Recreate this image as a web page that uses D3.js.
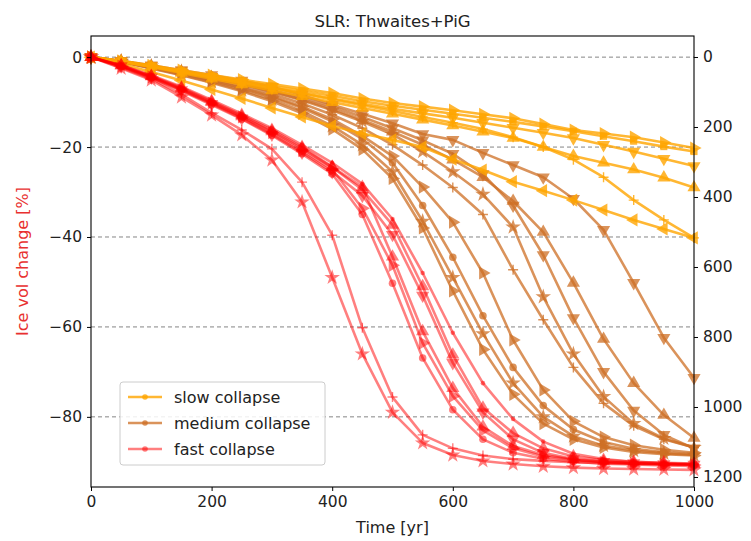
<!DOCTYPE html>
<html>
<head>
<meta charset="utf-8">
<script src="https://cdn.jsdelivr.net/npm/d3@7"></script>
<style>
  body { margin: 0; background: #fff; }
  text { font-family: "DejaVu Sans", sans-serif; }
</style>
</head>
<body>
<svg id="chart" width="751" height="541"></svg>
<script>
// time axis, one sample every 50 yr
var years = [0, 50, 100, 150, 200, 250, 300, 350, 400, 450, 500,
             550, 600, 650, 700, 750, 800, 850, 900, 950, 1000];

// slow collapse runs
var slow_right  = [0, -0.8, -1.8, -2.9, -4.0, -5.0, -6.0, -7.0, -8.0, -9.2, -10.2, -11.0, -11.8, -12.7, -13.6, -14.9, -16.2, -17.0, -17.8, -19.0, -20.2];
var slow_square = [0, -0.9, -2.0, -3.1, -4.2, -5.3, -6.4, -7.5, -8.6, -9.8, -10.8, -11.7, -12.6, -13.5, -14.4, -15.4, -16.5, -17.6, -18.7, -19.9, -21.0];
var slow_down   = [0, -0.9, -2.0, -3.2, -4.4, -5.6, -6.8, -8.0, -9.2, -10.4, -11.5, -12.5, -13.5, -14.6, -15.7, -16.8, -18.0, -19.5, -21.0, -22.6, -24.2];
var slow_up     = [0, -1.0, -2.2, -3.5, -4.8, -6.1, -7.4, -8.7, -10.0, -11.3, -12.6, -13.9, -15.2, -16.6, -18.0, -20.0, -22.0, -23.5, -25.0, -26.8, -29.0];
var slow_plus   = [0, -1.0, -2.1, -3.3, -4.5, -5.7, -6.9, -8.1, -9.4, -10.7, -12.0, -13.3, -14.6, -16.0, -17.8, -20.0, -22.8, -26.7, -31.8, -36.2, -40.2];
var slow_left   = [0, -1.5, -3.3, -5.2, -7.2, -9.2, -11.3, -13.3, -15.3, -17.0, -18.4, -20.0, -22.7, -25.1, -27.7, -29.7, -31.8, -34.0, -36.2, -38.2, -40.2];

// medium collapse runs
var med_right  = [0, -1.1, -2.5, -4.0, -5.7, -7.6, -9.8, -12.5, -16.0, -20.5, -27.0, -38.0, -52.0, -65.0, -75.0, -81.5, -85.0, -86.8, -87.8, -88.3, -88.6];
var med_star   = [0, -1.0, -2.4, -3.9, -5.5, -7.3, -9.4, -12.0, -15.3, -19.5, -25.5, -36.5, -49.0, -61.5, -72.5, -80.0, -84.3, -86.4, -87.5, -88.1, -88.5];
var med_circle = [0, -1.0, -2.3, -3.7, -5.2, -6.9, -8.9, -11.3, -14.3, -18.2, -23.5, -33.0, -44.5, -57.5, -69.0, -77.5, -82.8, -85.6, -87.1, -87.9, -88.3];
var med_right2 = [0, -1.0, -2.2, -3.6, -5.1, -6.8, -8.7, -11.0, -13.8, -17.5, -22.0, -28.9, -36.7, -48.0, -62.9, -74.0, -81.0, -84.5, -86.3, -87.3, -88.0];
var med_plus   = [0, -0.9, -2.1, -3.4, -4.8, -6.4, -8.2, -10.3, -12.8, -15.8, -19.5, -24.0, -29.0, -35.0, -47.3, -58.4, -69.0, -77.0, -82.0, -85.0, -86.8];
var med_star2  = [0, -0.9, -2.0, -3.2, -4.5, -6.0, -7.7, -9.6, -11.8, -14.3, -17.2, -21.0, -25.5, -30.5, -37.8, -53.3, -66.0, -75.5, -81.5, -84.8, -86.8];
var med_down2  = [0, -0.9, -1.9, -3.1, -4.4, -5.8, -7.3, -9.0, -11.0, -13.3, -15.8, -18.5, -21.5, -26.0, -33.0, -44.0, -58.0, -70.0, -78.6, -84.0, -87.0];
var med_up     = [0, -0.9, -2.0, -3.3, -4.6, -6.0, -7.6, -9.4, -11.5, -14.0, -16.6, -19.5, -22.8, -26.7, -32.0, -38.9, -50.2, -62.7, -72.5, -79.6, -84.7];
var med_down   = [0, -0.8, -1.8, -2.9, -4.0, -5.2, -6.6, -8.4, -10.6, -12.6, -14.7, -17.1, -18.4, -21.3, -24.0, -26.7, -31.5, -38.4, -50.2, -62.4, -71.3];

// fast collapse runs
var fast_star   = [0, -2.5, -5.1, -8.9, -12.9, -17.3, -22.9, -32.2, -49.0, -66.0, -79.0, -85.8, -88.5, -89.8, -90.5, -91.0, -91.3, -91.5, -91.6, -91.7, -91.8];
var fast_plus   = [0, -2.3, -4.8, -8.3, -12.4, -16.2, -20.4, -27.8, -39.6, -60.2, -75.6, -84.0, -87.0, -88.6, -89.4, -89.8, -90.1, -90.3, -90.4, -90.5, -90.6];
var fast_up     = [0, -1.8, -4.2, -6.8, -9.8, -12.9, -16.2, -20.0, -24.4, -28.9, -44.4, -61.0, -73.6, -82.2, -86.5, -88.5, -89.5, -90.0, -90.3, -90.5, -90.6];
var fast_right  = [0, -2.0, -4.4, -7.2, -10.2, -13.3, -16.8, -20.8, -25.0, -33.6, -46.3, -63.6, -75.4, -83.0, -87.0, -88.8, -89.6, -90.1, -90.4, -90.6, -90.7];
var fast_circle = [0, -2.1, -4.6, -7.5, -10.6, -13.8, -17.4, -21.5, -26.0, -35.0, -50.3, -66.9, -78.4, -85.0, -88.0, -89.3, -90.0, -90.4, -90.6, -90.8, -90.9];
var fast_up2    = [0, -1.9, -4.3, -7.0, -10.0, -13.2, -16.5, -20.3, -24.5, -29.5, -37.3, -51.0, -66.2, -78.0, -83.6, -87.0, -88.8, -89.6, -90.0, -90.2, -90.4];
var fast_down   = [0, -2.0, -4.5, -7.3, -10.4, -13.6, -17.2, -21.2, -25.5, -30.8, -39.5, -53.0, -68.0, -79.0, -85.0, -88.0, -89.4, -90.0, -90.3, -90.5, -90.6];
var fast_dot    = [0, -1.8, -4.0, -6.6, -9.5, -12.6, -15.8, -19.5, -23.5, -28.2, -36.0, -48.0, -61.3, -72.5, -80.5, -85.5, -88.2, -89.4, -90.0, -90.3, -90.5];

var xTicks = [0, 200, 400, 600, 800, 1000];
var yTicks = [0, -20, -40, -60, -80];
var slrTicks = [0, 200, 400, 600, 800, 1000, 1200];

var groups = [
  { name: 'slow collapse',   color: '#ffa500', alpha: 0.8 },
  { name: 'medium collapse', color: '#cd6f24', alpha: 0.75 },
  { name: 'fast collapse',   color: '#ff0000', alpha: 0.5 }
];

var series = [
  { g: 1, m: 'right',  v: med_right },
  { g: 1, m: 'star',   v: med_star },
  { g: 1, m: 'circle', v: med_circle },
  { g: 1, m: 'right',  v: med_right2 },
  { g: 1, m: 'plus',   v: med_plus },
  { g: 1, m: 'star',   v: med_star2 },
  { g: 1, m: 'down',   v: med_down2 },
  { g: 1, m: 'up',     v: med_up },
  { g: 1, m: 'down',   v: med_down },
  { g: 0, m: 'right',  v: slow_right },
  { g: 0, m: 'square', v: slow_square },
  { g: 0, m: 'down',   v: slow_down },
  { g: 0, m: 'up',     v: slow_up },
  { g: 0, m: 'plus',   v: slow_plus },
  { g: 0, m: 'left',   v: slow_left },
  { g: 2, m: 'star',   v: fast_star },
  { g: 2, m: 'plus',   v: fast_plus },
  { g: 2, m: 'up',     v: fast_up },
  { g: 2, m: 'right',  v: fast_right },
  { g: 2, m: 'circle', v: fast_circle },
  { g: 2, m: 'up',     v: fast_up2 },
  { g: 2, m: 'down',   v: fast_down },
  { g: 2, m: 'dot',    v: fast_dot }
];

var svg = d3.select('#chart');
var margin = { left: 91, top: 36, right: 57, bottom: 54 };
var W = 751 - margin.left - margin.right;
var H = 541 - margin.top - margin.bottom;

var x = d3.scaleLinear().domain([0, 1000]).range([0, W]);
var y = d3.scaleLinear().domain([-95.6, 4.7]).range([H, 0]);
// right axis: sea level rise, grows downwards
var ySlr = d3.scaleLinear().domain([-60, 1228.6]).range([0, H]);

var g = svg.append('g').attr('transform', 'translate(' + margin.left + ',' + margin.top + ')');

// dashed grid on the left ticks
g.selectAll('.grid').data(yTicks).enter().append('line')
  .attr('x1', 0).attr('x2', W)
  .attr('y1', function(d) { return y(d); })
  .attr('y2', function(d) { return y(d); })
  .attr('stroke', '#777').attr('stroke-width', 0.9)
  .attr('stroke-dasharray', '4,3');

var tri = d3.symbol().type(d3.symbolTriangle).size(75)();
var markerPath = function(m) {
  if (m === 'star') return d3.symbol().type(d3.symbolStar).size(75)();
  if (m === 'circle') return d3.symbol().type(d3.symbolCircle).size(45)();
  if (m === 'dot') return d3.symbol().type(d3.symbolCircle).size(16)();
  if (m === 'square') return d3.symbol().type(d3.symbolSquare).size(50)();
  if (m === 'plus') return 'M-5,0H5M0,-5V5';
  return tri;
};
var markerRot = { up: 0, down: 180, right: 90, left: -90 };

var line = d3.line()
  .x(function(d, i) { return x(years[i]); })
  .y(function(d) { return y(d); });

series.forEach(function(s) {
  var grp = groups[s.g];
  var sg = g.append('g').attr('class', 'run');
  sg.append('path')
    .attr('d', line(s.v))
    .attr('fill', 'none')
    .attr('stroke', grp.color)
    .attr('stroke-opacity', grp.alpha)
    .attr('stroke-width', 2.6)
    .attr('stroke-linejoin', 'round');
  var isPlus = s.m === 'plus';
  sg.selectAll('.mk').data(s.v).enter().append('path')
    .attr('d', markerPath(s.m))
    .attr('transform', function(d, i) {
      return 'translate(' + x(years[i]) + ',' + y(d) + ') rotate(' + (markerRot[s.m] || 0) + ')';
    })
    .attr('fill', isPlus ? 'none' : grp.color)
    .attr('fill-opacity', grp.alpha)
    .attr('stroke', isPlus ? grp.color : 'none')
    .attr('stroke-opacity', grp.alpha)
    .attr('stroke-width', 1.4);
});

// axes
var fmt = function(d) { return d < 0 ? '\u2212' + Math.abs(d) : String(d); };

var xAxis = g.append('g').attr('transform', 'translate(0,' + H + ')')
  .call(d3.axisBottom(x).tickValues(xTicks).tickSize(4).tickPadding(5).tickFormat(fmt));
var yAxis = g.append('g')
  .call(d3.axisLeft(y).tickValues(yTicks).tickSize(4).tickPadding(5).tickFormat(fmt));
var rAxis = g.append('g').attr('transform', 'translate(' + W + ',0)')
  .call(d3.axisRight(ySlr).tickValues(slrTicks).tickSize(4).tickPadding(5).tickFormat(fmt));

[xAxis, yAxis, rAxis].forEach(function(a) {
  a.select('.domain').remove();
  a.selectAll('.tick line').attr('stroke', '#000').attr('stroke-width', 1);
  a.selectAll('.tick text').attr('font-size', 15.5).attr('fill', '#222')
    .attr('font-family', '"DejaVu Sans", sans-serif');
});

g.append('rect').attr('width', W).attr('height', H)
  .attr('fill', 'none').attr('stroke', '#000').attr('stroke-width', 1.1);

// titles
svg.append('text').attr('x', margin.left + W / 2).attr('y', 27)
  .attr('text-anchor', 'middle').attr('font-size', 16.5).attr('fill', '#222')
  .text('SLR: Thwaites+PiG');
svg.append('text').attr('x', margin.left + W / 2).attr('y', 533)
  .attr('text-anchor', 'middle').attr('font-size', 16).attr('fill', '#222')
  .text('Time [yr]');
svg.append('text')
  .attr('transform', 'translate(28,' + (margin.top + H / 2) + ') rotate(-90)')
  .attr('text-anchor', 'middle').attr('font-size', 16).attr('fill', '#e8302f')
  .text('Ice vol change [%]');

// legend
var lg = svg.append('g').attr('transform', 'translate(120,382)');
lg.append('rect').attr('width', 205).attr('height', 83).attr('rx', 3)
  .attr('fill', '#fff').attr('fill-opacity', 0.85)
  .attr('stroke', '#ccc').attr('stroke-width', 1);
groups.forEach(function(grp, i) {
  var ly = 15 + i * 26;
  lg.append('line').attr('x1', 8).attr('x2', 42).attr('y1', ly).attr('y2', ly)
    .attr('stroke', grp.color).attr('stroke-opacity', grp.alpha).attr('stroke-width', 2.6);
  lg.append('circle').attr('cx', 25).attr('cy', ly).attr('r', 2.8)
    .attr('fill', grp.color).attr('fill-opacity', grp.alpha);
  lg.append('text').attr('x', 54).attr('y', ly + 5.5).attr('font-size', 16).attr('fill', '#222')
    .text(grp.name);
});
</script>
</body>
</html>
